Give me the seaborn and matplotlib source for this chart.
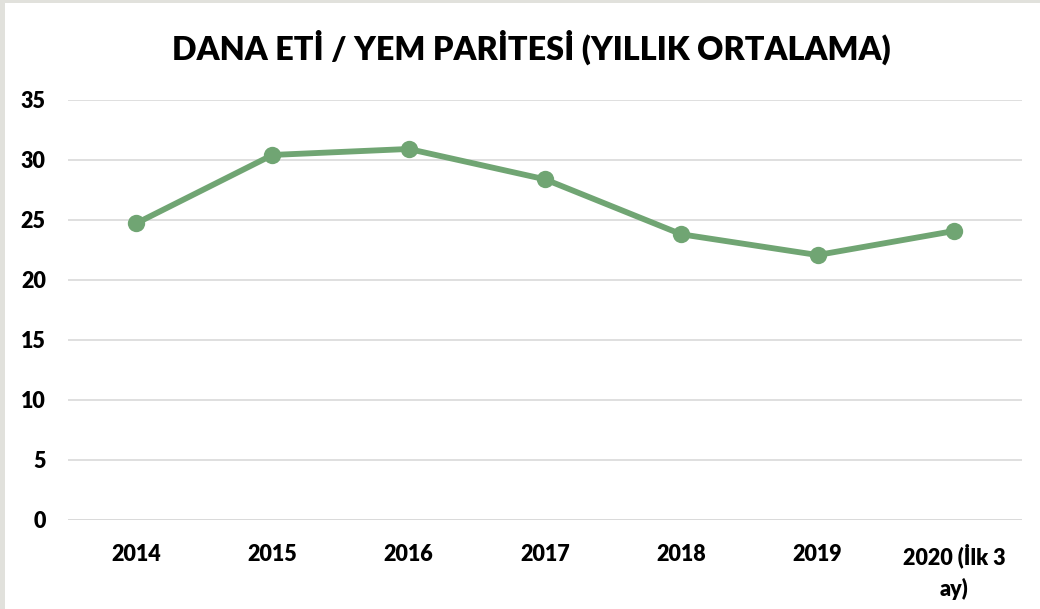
import matplotlib
matplotlib.use("Agg")
import matplotlib.pyplot as plt
import seaborn as sns
import pandas as pd
from matplotlib.patches import Rectangle

# Yearly average beef / feed price parity
years = ["2014", "2015", "2016", "2017", "2018", "2019", "2020 (İlk 3\nay)"]
parity = [24.72, 30.42, 30.92, 28.39, 23.81, 22.08, 24.08]
y_ticks = [0, 5, 10, 15, 20, 25, 30, 35]

title = "DANA ETİ / YEM PARİTESİ (YILLIK ORTALAMA)"
line_color = "#70A573"
grid_color = "#D9D9D9"

sns.set_theme(style="white")
plt.rcParams["font.family"] = ["Lato", "DejaVu Sans"]

df = pd.DataFrame({"year": years, "parity": parity})

fig = plt.figure(figsize=(10.4, 6.09), dpi=100)
fig.patch.set_facecolor("white")
# light frame strips along the left and top edges
fig.patches.append(Rectangle((0, 0), 5 / 1040, 1, transform=fig.transFigure,
                             facecolor="#E1E1DC", edgecolor="none", zorder=0))
fig.patches.append(Rectangle((0, 1 - 3 / 609), 1, 3 / 609, transform=fig.transFigure,
                             facecolor="#E1E1DC", edgecolor="none", zorder=0))

ax = fig.add_axes([68 / 1040, 1 - 520 / 609, (1022 - 68) / 1040, 420 / 609])
ax.set_facecolor("white")

sns.lineplot(data=df, x="year", y="parity", ax=ax, color=line_color,
             linewidth=4.2, marker="o", markersize=12.5, markeredgewidth=0,
             sort=False, zorder=3)

ax.set_xlim(-0.5, len(years) - 0.5)
ax.set_ylim(0, 35)
ax.set_yticks(y_ticks)
ax.set_yticklabels([str(t) for t in y_ticks])
ax.set_xlabel("")
ax.set_ylabel("")

ax.yaxis.grid(True, color=grid_color, linewidth=1.2)
ax.xaxis.grid(False)
for s in ax.spines.values():
    s.set_visible(False)
ax.axhline(0, color=grid_color, linewidth=1.2, zorder=1)

ax.tick_params(axis="y", length=0, pad=16, labelsize=15.5, labelcolor="#000000")
ax.tick_params(axis="x", length=0, pad=17, labelsize=15.5, labelcolor="#000000")
for lab in ax.get_yticklabels() + ax.get_xticklabels():
    lab.set_fontweight("heavy")
for lab in ax.get_xticklabels():
    lab.set_horizontalalignment("center")
    lab.set_multialignment("center")
    lab.set_linespacing(1.55)

fig.text(531 / 1040, 1 - 47 / 609, title, ha="center", va="center",
         fontsize=23.3, fontweight="heavy", color="#000000")

fig.savefig("out.png", dpi=100, facecolor=fig.get_facecolor())
